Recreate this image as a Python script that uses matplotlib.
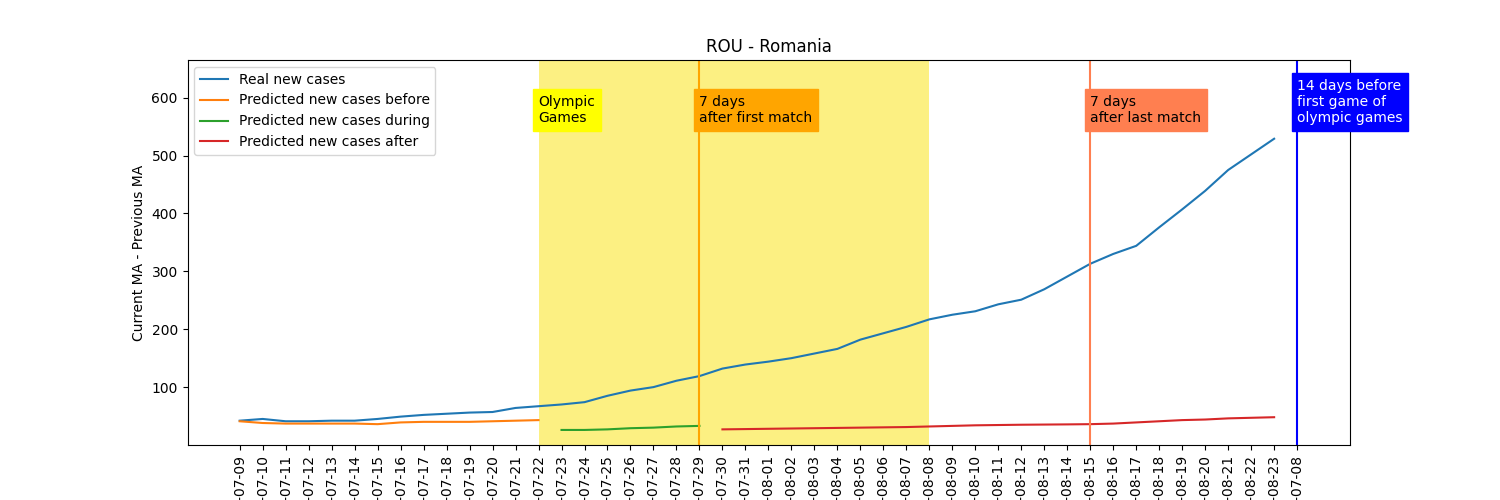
import matplotlib
matplotlib.use("Agg")
import matplotlib.pyplot as plt

dates = ["2021-07-%02d" % d for d in range(9, 32)] + ["2021-08-%02d" % d for d in range(1, 24)] + ["2021-07-08"]

real = [42, 45, 41, 41, 42, 42, 45, 49, 52, 54, 56, 57, 64, 67, 70, 74, 85, 94, 100, 111, 119,
        132, 139, 144, 150, 158, 166, 182, 193, 204, 217, 225, 231, 243, 251, 269, 291, 313,
        330, 344, 376, 407, 439, 475, 502, 529]
before = [41, 38, 37, 37, 37, 37, 36, 39, 40, 40, 40, 41, 42, 43]
during = [26, 26, 27, 29, 30, 32, 33]
after = [27, 27.5, 28, 28.5, 29, 29.5, 30, 30.5, 31, 32, 33, 34, 34.5, 35, 35.3, 35.6, 36,
         37, 39, 41, 43, 44, 46, 47, 48]

fig, ax = plt.subplots(figsize=(15, 5), dpi=100)
ax.plot(dates[:46], real, label="Real new cases")
ax.plot(dates[:14], before, label="Predicted new cases before")
ax.plot(dates[14:21], during, label="Predicted new cases during")
ax.plot(dates[21:46], after, label="Predicted new cases after")
ax.plot(dates[46:], [None], color="none")

ax.axvspan(13, 30, color="#fbe41c", alpha=0.55, lw=0)
ax.axvline(20, color="orange")
ax.axvline(37, color="coral")
ax.axvline(46, color="blue")
ax.text(13, 558, "Olympic\nGames", bbox=dict(facecolor="yellow", edgecolor="yellow"))
ax.text(20, 558, "7 days\nafter first match", bbox=dict(facecolor="orange", edgecolor="orange"))
ax.text(37, 558, "7 days\nafter last match", bbox=dict(facecolor="coral", edgecolor="coral"))
ax.text(46, 558, "14 days before\nfirst game of\nolympic games", color="white",
        bbox=dict(facecolor="blue", edgecolor="blue"))

ax.set_xlim(-2.27, 48.3)
ax.set_ylim(0, 665)
ax.set_yticks([100, 200, 300, 400, 500, 600])
ax.set_ylabel("Current MA - Previous MA")
ax.set_title("ROU - Romania")
plt.xticks(rotation=90)
ax.legend(loc="upper left")
plt.savefig("out.png")
